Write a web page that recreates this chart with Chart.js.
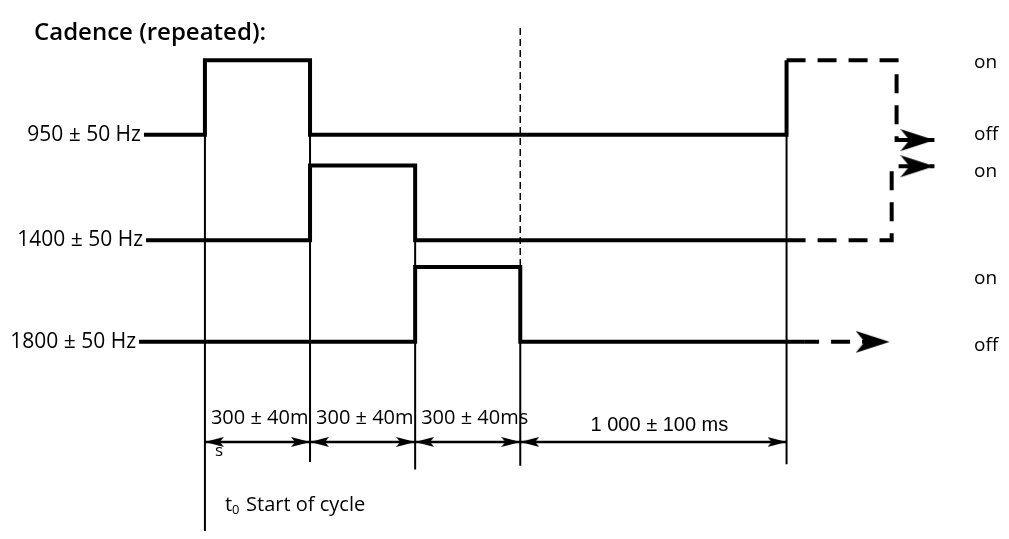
<!DOCTYPE html>
<html>
<head>
<meta charset="utf-8">
<title>Cadence (repeated)</title>
<script src="https://cdn.jsdelivr.net/npm/chart.js@4.4.1/dist/chart.umd.min.js"></script>
<style>
  html, body { margin: 0; padding: 0; background: #fff; }
  #wrap { width: 1009px; height: 539px; position: relative; }
</style>
</head>
<body>
<div id="wrap"><canvas id="cadence"></canvas></div>
<script>
// tone rows, top to bottom
const tones = ["950 ± 50 Hz", "1400 ± 50 Hz", "1800 ± 50 Hz"];
// cycle edges in ms from t0 (the 1 000 ms pause is drawn shorter, as on the sheet)
const edges = [0, 300, 600, 900, 1660];
// which slot each tone is switched on in
const onSlot = [0, 1, 2];
// duration marks under the slots
const durations = ["300 ± 40m", "300 ± 40m", "300 ± 40ms", "1 000 ± 100 ms"];
// state words on the right, top to bottom
const stateLabels = ["on", "off", "on", "on", "off"];

// layout (value units of the two hidden axes)
const rowBase = [2.77, 1.36, 0];          // "off" level of each tone, "on" is +1
const lineStart = [-174, -168, -188];
const dimY = -1.34;

// arrow head drawn into a small canvas, tip at its centre so it can be a pointStyle
function arrowHead(len, half, notch) {
  const c = document.createElement("canvas");
  c.width = len * 2;
  c.height = half * 2 + 2;
  const g = c.getContext("2d");
  g.fillStyle = "#000";
  g.beginPath();
  g.moveTo(len, half + 1);
  g.lineTo(0, 1);
  g.lineTo(notch, half + 1);
  g.lineTo(0, half * 2 + 1);
  g.closePath();
  g.fill();
  return c;
}
const bigHead = arrowHead(34, 11, 9);
const smallHead = arrowHead(19, 5, 4);

function line(points, opts) {
  return Object.assign({
    data: points,
    borderColor: "#000",
    borderWidth: 4,
    pointRadius: 0,
    fill: false,
    tension: 0,
    borderJoinStyle: "miter"
  }, opts);
}
function arrowLine(points, head, opts) {
  const last = points.length - 1;
  return line(points, Object.assign({
    pointRadius: c => c.dataIndex === last ? 1 : 0,
    pointStyle: c => c.dataIndex === last ? head : "circle"
  }, opts));
}

const datasets = [];

// tone traces, solid over one cycle
tones.forEach((t, k) => {
  const off = rowBase[k], on = off + 1;
  const a = edges[onSlot[k]], b = edges[onSlot[k] + 1];
  const pts = [
    {x: lineStart[k], y: off}, {x: a, y: off}, {x: a, y: on},
    {x: b, y: on}, {x: b, y: off}
  ];
  if (k === 0) pts.push({x: edges[4], y: off}, {x: edges[4], y: on});
  if (k === 1) pts.push({x: edges[4], y: off});
  if (k === 2) pts.push({x: edges[4] + 50, y: off});
  datasets.push(line(pts));
});

// dashed continuation into the next cycle
const dash = [19, 12];
datasets.push(arrowLine([
  {x: edges[4], y: rowBase[0] + 1}, {x: 1974, y: rowBase[0] + 1},
  {x: 1974, y: rowBase[0] - 0.07}, {x: 2082, y: rowBase[0] - 0.07}
], bigHead, {borderDash: dash}));
datasets.push(arrowLine([
  {x: edges[4], y: rowBase[1]}, {x: 1960, y: rowBase[1]},
  {x: 1960, y: rowBase[1] + 0.99}, {x: 2082, y: rowBase[1] + 0.99}
], bigHead, {borderDash: dash}));
datasets.push(arrowLine([
  {x: edges[4] + 50, y: rowBase[2]}, {x: 1954, y: rowBase[2]}
], bigHead, {borderDash: dash, borderDashOffset: 4}));

// thin guide lines at the slot edges
const guideTop = [3.77, 3.77, 2.36, 1, 2.77];
const guideBottom = [-2.7, -1.61, -1.71, -1.66, -1.64];
edges.forEach((e, i) => {
  datasets.push(line([{x: e, y: guideTop[i]}, {x: e, y: guideBottom[i]}], {borderWidth: 2}));
});
datasets.push(line([{x: edges[3], y: 4.2}, {x: edges[3], y: 1}], {borderWidth: 1.5, borderDash: [7, 4]}));

// dimension arrows between edges
for (let i = 0; i < edges.length - 1; i++) {
  datasets.push(line([{x: edges[i], y: dimY}, {x: edges[i + 1], y: dimY}], {
    borderWidth: 2.4,
    pointRadius: 1,
    pointStyle: smallHead,
    pointRotation: c => c.dataIndex === 0 ? 180 : 0
  }));
}

const sheetText = {
  id: "sheetText",
  afterDatasetsDraw(chart) {
    const {ctx, scales: {x, y}} = chart;
    ctx.save();
    ctx.fillStyle = "#000";
    ctx.textBaseline = "middle";

    ctx.font = '600 24px "Open Sans"';
    ctx.textAlign = "left";
    ctx.fillText("Cadence (repeated):", 34, 33);

    ctx.font = '21px "Open Sans"';
    ctx.textAlign = "right";
    tones.forEach((t, k) => {
      ctx.fillText(t, x.getPixelForValue(lineStart[k]) - 3, y.getPixelForValue(rowBase[k]));
    });

    ctx.font = '20px "Open Sans"';
    ctx.textAlign = "left";
    for (let i = 0; i < 3; i++) {
      ctx.fillText(durations[i], x.getPixelForValue(edges[i]) + 6, y.getPixelForValue(-1.03));
    }
    ctx.font = '20px "Liberation Sans"';
    ctx.textAlign = "center";
    ctx.fillText(durations[3],
      (x.getPixelForValue(edges[3]) + x.getPixelForValue(edges[4])) / 2 + 6,
      y.getPixelForValue(-1.12));

    ctx.font = '17px "Open Sans"';
    ctx.textAlign = "left";
    ctx.fillText("s", x.getPixelForValue(edges[0]) + 10, y.getPixelForValue(-1.47));

    // t0 Start of cycle
    const tx = x.getPixelForValue(edges[0]) + 20, ty = y.getPixelForValue(-2.19);
    ctx.font = '20px "Open Sans"';
    ctx.fillText("t", tx, ty);
    const tw = ctx.measureText("t").width;
    ctx.font = '13px "Open Sans"';
    ctx.fillText("0", tx + tw, ty + 5);
    ctx.font = '20px "Open Sans"';
    ctx.fillText("Start of cycle", tx + tw + 14, ty);

    const stateY = [rowBase[0] + 1, rowBase[0], rowBase[1] + 1, rowBase[2] + 1, rowBase[2]];
    const stateShift = [2, 0, 6, 11, 4];
    ctx.font = '19px "Open Sans"';
    stateLabels.forEach((s, i) => {
      ctx.fillText(s, 974, y.getPixelForValue(stateY[i]) + stateShift[i]);
    });
    ctx.restore();
  }
};

new Chart(document.getElementById("cadence"), {
  type: "line",
  data: {datasets: datasets},
  options: {
    responsive: true,
    maintainAspectRatio: false,
    animation: false,
    events: [],
    layout: {padding: 0},
    plugins: {legend: {display: false}, tooltip: {enabled: false}},
    scales: {
      x: {type: "linear", min: -562, max: 2272, display: false},
      y: {type: "linear", min: -2.532, max: 4.468, display: false}
    }
  },
  plugins: [sheetText]
});
</script>
</body>
</html>
